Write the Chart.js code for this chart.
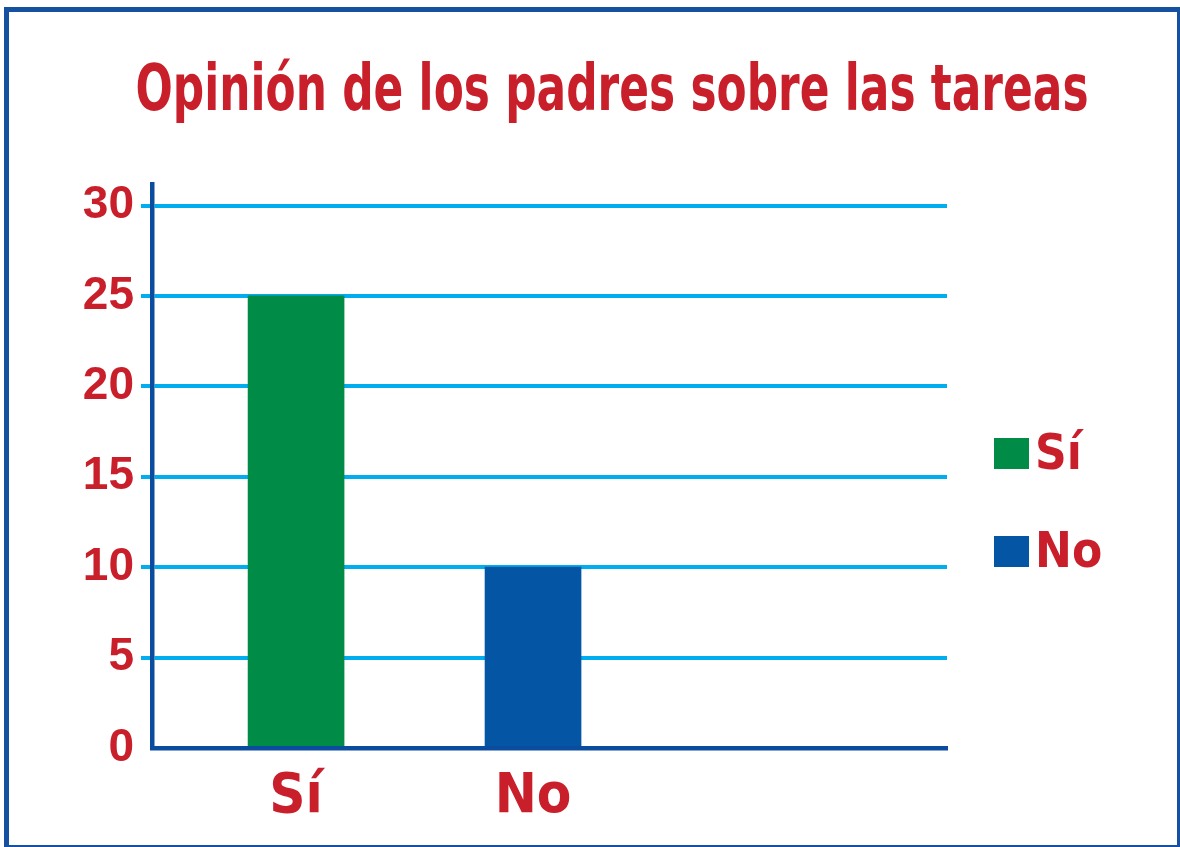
<!DOCTYPE html>
<html lang="es">
<head>
<meta charset="utf-8">
<title>Opinión de los padres sobre las tareas</title>
<script src="https://cdn.jsdelivr.net/npm/chart.js@4.4.1/dist/chart.umd.min.js"></script>
<style>
  html, body { margin: 0; padding: 0; background: #fff; overflow: hidden; }
  #wrap { position: relative; width: 1180px; height: 847px; }
  #marco {
    position: absolute; left: 4px; top: 7px; width: 1178px; height: 843px;
    border: 5px solid #1650a0; box-sizing: border-box; pointer-events: none;
  }
</style>
</head>
<body>
<div id="wrap">
  <canvas id="grafico"></canvas>
  <div id="marco"></div>
</div>
<script>
// Datos de la encuesta
const titulo = "Opinión de los padres sobre las tareas";
const categorias = ["Sí", "No"];
const respuestas = [25, 10];
const colores = ["#008c46", "#0455a4"];
const marcasY = [0, 5, 10, 15, 20, 25, 30];

const rojo = "#c91f2b";
const azulEje = "#0b4c9f";
const azulRejilla = "#00aeef";
const fuenteEstrecha = '"Liberation Sans Narrow", "DejaVu Sans Condensed", "Liberation Sans", sans-serif';
const fuenteNumeros = '"Liberation Sans", Arial, sans-serif';

// Título arriba y leyenda a la derecha
const rotulos = {
  id: 'rotulos',
  afterDraw(chart) {
    const ctx = chart.ctx;
    const area = chart.chartArea;
    ctx.save();
    ctx.fillStyle = rojo;
    ctx.textBaseline = 'alphabetic';
    ctx.textAlign = 'center';
    ctx.font = 'bold 64px ' + fuenteEstrecha;
    ctx.fillText(titulo, 612, 110, 953);

    ctx.textAlign = 'left';
    ctx.font = 'bold 49px ' + fuenteEstrecha;
    categorias.forEach((cat, i) => {
      const x = area.right + 47;
      const y = area.top + 254 + i * 98;
      ctx.fillStyle = colores[i];
      ctx.fillRect(x, y, 35, 31);
      ctx.fillStyle = rojo;
      ctx.fillText(cat, x + 41, y + 31);
    });
    ctx.restore();
  }
};

new Chart(document.getElementById('grafico'), {
  type: 'bar',
  data: {
    datasets: [{
      label: 'Respuestas',
      data: respuestas.map((v, i) => ({ x: i + 1, y: v })),
      backgroundColor: colores,
      borderWidth: 0,
      barThickness: 96
    }]
  },
  options: {
    responsive: true,
    maintainAspectRatio: false,
    animation: false,
    layout: { padding: { top: 184, right: 233, bottom: 0, left: 0 } },
    plugins: {
      legend: { display: false },
      tooltip: { enabled: false }
    },
    scales: {
      x: {
        type: 'linear',
        offset: false,
        min: 0.392,
        max: 3.747,
        afterBuildTicks: (s) => { s.ticks = categorias.map((c, i) => ({ value: i + 1 })); },
        afterFit: (s) => { s.height = 99; },
        grid: { display: false, drawTicks: false },
        border: { display: true, color: azulEje, width: 4.5, z: 1 },
        ticks: {
          autoSkip: false,
          padding: 16,
          color: rojo,
          font: { family: fuenteEstrecha, size: 56, weight: 'bold' },
          callback: (v) => categorias[v - 1] ?? ''
        }
      },
      y: {
        min: 0,
        max: 31.19,
        afterBuildTicks: (s) => { s.ticks = marcasY.map(v => ({ value: v })); },
        afterFit: (s) => { s.width = 152; },
        grid: {
          color: (c) => (c.tick && c.tick.value === 0) ? 'rgba(0,0,0,0)' : azulRejilla,
          lineWidth: 4,
          tickLength: 11
        },
        border: { color: azulEje, width: 4.5, z: 1 },
        ticks: {
          padding: 7,
          color: rojo,
          font: { family: fuenteNumeros, size: 46, weight: 'bold' }
        }
      }
    }
  },
  plugins: [rotulos]
});
</script>
</body>
</html>
